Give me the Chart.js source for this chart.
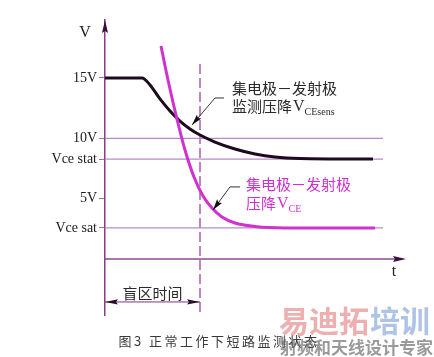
<!DOCTYPE html>
<html lang="zh">
<head>
    <meta charset="UTF-8">
    <title>正常工作下短路监测状态</title>
    <script src="https://cdn.jsdelivr.net/npm/chart.js"></script>
    <style>
        html, body {
            margin: 0;
            padding: 0;
            background: #fff;
        }

        #wrap {
            width: 434px;
            height: 357px;
            position: relative;
        }
    </style>
</head>
<body>
<div id="wrap"><canvas id="monitorCanvas"></canvas></div>

<script>
    // tempo (unita arbitrarie) e tensioni
    const senseTime = [0, 37, 45, 55, 65, 75, 85, 95, 110, 130, 150, 170, 195, 268];
    const senseVolt = [15, 15, 14.42, 13.26, 12.26, 11.43, 10.77, 10.27, 9.69, 9.11, 8.70, 8.45, 8.33, 8.28];

    const vceTime = [56, 63, 71, 80, 89, 98, 107, 117, 130, 150, 180, 270];
    const vceVolt = [17.65, 14.83, 11.93, 9.03, 6.79, 5.22, 4.23, 3.48, 2.98, 2.69, 2.57, 2.57];

    const vceStat = 8.28;
    const vceSat = 2.57;
    const refLevels = [10, vceStat, vceSat];

    const yTickValues = [vceSat, 5, vceStat, 10, 15];
    const yTickLabels = ['Vce sat', '5V', 'Vce stat', '10V', '15V'];

    const blindEnd = 95;       // fine del tempo di mascheramento
    const refLineEnd = 278;
    const timeAxisEnd = 301;
    const yMin = -4.64;
    const yMax = 19.8;

    const toPoints = (xs, ys) => xs.map((t, i) => ({x: t, y: ys[i]}));

    function arrowHead(ctx, tipX, tipY, fromX, fromY, len, half, color) {
        const ang = Math.atan2(tipY - fromY, tipX - fromX);
        ctx.save();
        ctx.translate(tipX, tipY);
        ctx.rotate(ang);
        ctx.beginPath();
        ctx.moveTo(0, 0);
        ctx.lineTo(-len, -half);
        ctx.lineTo(-len * 0.85, 0);
        ctx.lineTo(-len, half);
        ctx.closePath();
        ctx.fillStyle = color;
        ctx.fill();
        ctx.restore();
    }

    // testo con pedice (es. V_CE)
    function labelWithSub(ctx, x, y, cjk, sub, color) {
        ctx.fillStyle = color;
        ctx.textBaseline = 'middle';
        ctx.textAlign = 'left';
        ctx.font = '15px "Noto Sans CJK SC"';
        ctx.fillText(cjk, x, y);
        let cx = x + ctx.measureText(cjk).width + 1;
        ctx.font = '16px "Liberation Serif"';
        ctx.fillText('V', cx, y + 1);
        cx += ctx.measureText('V').width;
        ctx.font = '10px "Liberation Serif"';
        ctx.fillText(sub, cx, y + 6);
    }

    const figureNotes = {
        id: 'figureNotes',
        afterDatasetsDraw(chart) {
            const ctx = chart.ctx;
            const x = chart.scales.x;
            const y = chart.scales.y;
            const px = v => x.getPixelForValue(v);
            const py = v => y.getPixelForValue(v);
            const dark = '#2a0d2a';

            // frecce degli assi
            arrowHead(ctx, px(0), py(yMax), px(0), py(yMax) + 10, 13, 3, '#3a103a');
            arrowHead(ctx, px(timeAxisEnd), py(0), px(timeAxisEnd) - 10, py(0), 13, 3, '#3a103a');

            // quota del tempo cieco
            arrowHead(ctx, px(0), py(-3.56), px(0) + 10, py(-3.56), 13, 2.6, dark);
            arrowHead(ctx, px(blindEnd), py(-3.56), px(blindEnd) - 10, py(-3.56), 13, 2.6, dark);

            // richiami
            ctx.save();
            ctx.strokeStyle = '#333';
            ctx.lineWidth = 1;
            ctx.beginPath();
            ctx.moveTo(px(119), py(13.34));
            ctx.lineTo(px(110), py(13.34));
            ctx.lineTo(px(87), py(11.1));
            ctx.moveTo(px(135), py(5.97));
            ctx.lineTo(px(125), py(5.97));
            ctx.lineTo(px(108), py(4.06));
            ctx.stroke();
            ctx.restore();
            arrowHead(ctx, px(87), py(11.1), px(110), py(13.34), 11, 3, '#111');
            arrowHead(ctx, px(108), py(4.06), px(125), py(5.97), 11, 3, '#111');

            ctx.save();
            // etichette assi
            ctx.fillStyle = '#222';
            ctx.font = '16px "Liberation Serif"';
            ctx.textAlign = 'center';
            ctx.textBaseline = 'middle';
            ctx.fillText('V', px(0) - 20, py(yMax) + 13);
            ctx.fillText('t', px(timeAxisEnd) - 12, py(0) + 13);

            // testi delle curve
            ctx.textAlign = 'left';
            ctx.font = '15px "Noto Sans CJK SC"';
            ctx.fillStyle = '#2a2a2a';
            ctx.fillText('集电极－发射极', px(127), py(14.17));
            labelWithSub(ctx, px(127), py(12.68), '监测压降', 'CEsens', '#2a2a2a');

            ctx.font = '15px "Noto Sans CJK SC"';
            ctx.fillStyle = '#d030d0';
            ctx.fillText('集电极－发射极', px(141), py(6.21));
            labelWithSub(ctx, px(141), py(4.64), '压降', 'CE', '#d030d0');

            ctx.font = '15px "Noto Sans CJK SC"';
            ctx.fillStyle = '#2a2a2a';
            ctx.textAlign = 'center';
            ctx.fillText('盲区时间', px(blindEnd / 2), py(-2.82));

            // didascalia
            ctx.font = '13px "Noto Sans CJK SC"';
            ctx.fillStyle = '#3a3a3a';
            if ('letterSpacing' in ctx) ctx.letterSpacing = '2.5px';
            ctx.fillText('图3 正常工作下短路监测状态', chart.width / 2 + 2, 341);
            if ('letterSpacing' in ctx) ctx.letterSpacing = '0px';

            // filigrana
            ctx.textAlign = 'left';
            ctx.font = 'bold 30px "Noto Sans CJK SC"';
            ctx.fillStyle = 'rgba(222, 110, 110, 0.55)';
            ctx.fillText('易迪拓', 279, 321);
            ctx.fillStyle = 'rgba(110, 145, 205, 0.55)';
            ctx.fillText('培训', 370, 321);
            ctx.font = 'bold 17px "Noto Sans CJK SC"';
            ctx.fillStyle = 'rgba(100, 100, 100, 0.65)';
            ctx.fillText('射频和天线设计专家', 280, 348);
            ctx.restore();
        }
    };

    let chartMonitor;

    function initializeChart() {
        const ctxMonitor = document.getElementById('monitorCanvas').getContext('2d');

        const refSets = refLevels.map(v => ({
            data: [{x: 0, y: v}, {x: refLineEnd, y: v}],
            borderColor: '#b58cc2',
            borderWidth: 1.2,
            pointRadius: 0
        }));

        chartMonitor = new Chart(ctxMonitor, {
            type: 'line',
            data: {
                datasets: [
                    {
                        label: 'VCE',
                        data: toPoints(vceTime, vceVolt),
                        borderColor: '#cf32cf',
                        borderWidth: 3,
                        pointRadius: 0,
                        cubicInterpolationMode: 'monotone'
                    },
                    {
                        label: 'VCEsens',
                        data: toPoints(senseTime, senseVolt),
                        borderColor: '#1e0a1e',
                        borderWidth: 3,
                        pointRadius: 0,
                        cubicInterpolationMode: 'monotone'
                    },
                    ...refSets,
                    {
                        // asse dei tempi
                        data: [{x: 0, y: 0}, {x: timeAxisEnd - 8, y: 0}],
                        borderColor: '#8e4a8e',
                        borderWidth: 1.4,
                        pointRadius: 0
                    },
                    {
                        // fine tempo cieco
                        data: [{x: blindEnd, y: 16.16}, {x: blindEnd, y: yMin}],
                        borderColor: '#a044a8',
                        borderWidth: 1.3,
                        borderDash: [10, 4],
                        pointRadius: 0
                    },
                    {
                        // quota tempo cieco
                        data: [{x: 0, y: -3.56}, {x: blindEnd, y: -3.56}],
                        borderColor: '#7a3a7a',
                        borderWidth: 1,
                        pointRadius: 0
                    }
                ]
            },
            options: {
                responsive: true,
                maintainAspectRatio: false,
                animation: false,
                layout: {
                    padding: {top: 20, right: 28, bottom: 42, left: 0}
                },
                plugins: {
                    legend: {display: false},
                    tooltip: {enabled: false}
                },
                scales: {
                    x: {
                        type: 'linear',
                        display: false,
                        min: 0,
                        max: timeAxisEnd
                    },
                    y: {
                        type: 'linear',
                        min: yMin,
                        max: yMax,
                        afterFit: scale => { scale.width = 105; },
                        afterBuildTicks: scale => {
                            scale.ticks = yTickValues.map(v => ({value: v}));
                        },
                        border: {
                            display: true,
                            color: '#8a3a8a',
                            width: 1.5
                        },
                        grid: {
                            drawOnChartArea: false,
                            drawTicks: true,
                            tickLength: 6,
                            tickColor: '#a070b0'
                        },
                        ticks: {
                            padding: 2,
                            color: '#1a1a1a',
                            font: {family: '"Liberation Serif"', size: 14},
                            callback: (value, index) => yTickLabels[index]
                        }
                    }
                }
            },
            plugins: [figureNotes]
        });
    }

    window.onload = () => {
        initializeChart();
    };
</script>
</body>
</html>
